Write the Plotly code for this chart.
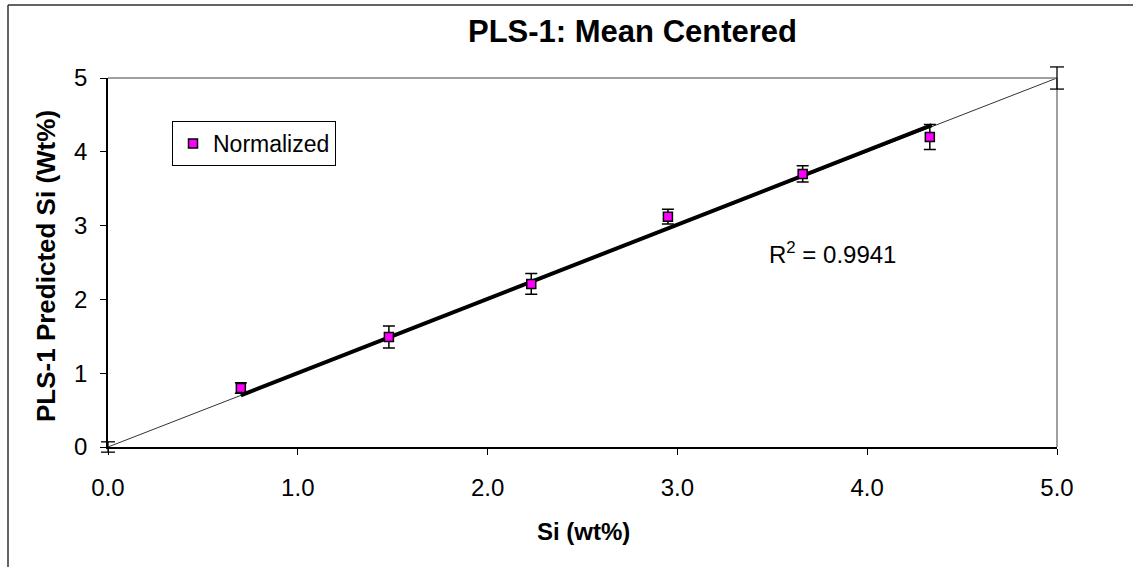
import plotly.graph_objects as go

# Measured vs. predicted Si content (wt%)
si_measured = [0.70, 1.48, 2.23, 2.95, 3.66, 4.33]
si_predicted = [0.80, 1.49, 2.21, 3.12, 3.70, 4.20]
pred_error = [0.07, 0.15, 0.14, 0.10, 0.11, 0.17]

# 1:1 reference line
ref_x = [0.0, 5.0]
ref_y = [0.0, 5.0]
ref_error = [0.07, 0.15]

# Linear trendline endpoints
trend_x = [0.70, 4.34]
trend_y = [0.70, 4.36]
r_squared = 0.9941

x_range = [0, 5]
y_range = [0, 5]
x_ticks = [0, 1, 2, 3, 4, 5]
y_ticks = [0, 1, 2, 3, 4, 5]

W, H = 1133, 567
L, R, T, B = 108, 1057, 78, 447
FONT = "Arial, Liberation Sans"


def px(x):
    """Figure pixel column -> paper x."""
    return (x - L) / (R - L)


def py(y):
    """Figure pixel row -> paper y."""
    return (B - y) / (B - T)


def dx(v):
    """Data x -> paper x."""
    return (v - x_range[0]) / (x_range[1] - x_range[0])


def dy(v):
    """Data y -> paper y."""
    return (v - y_range[0]) / (y_range[1] - y_range[0])


fig = go.Figure()

fig.add_trace(go.Scatter(
    x=ref_x, y=ref_y, mode="lines",
    line=dict(color="#333333", width=1),
    showlegend=False, hoverinfo="skip",
))

fig.add_trace(go.Scatter(
    x=trend_x, y=trend_y, mode="lines",
    line=dict(color="black", width=4),
    showlegend=False, hoverinfo="skip",
))

fig.add_trace(go.Scatter(
    x=si_measured, y=si_predicted, mode="markers", name="Normalized",
    marker=dict(symbol="square", size=9, color="#FF00FF",
                line=dict(color="black", width=1.5)),
    error_y=dict(type="data", array=pred_error, visible=True,
                 color="black", thickness=1.5, width=6),
))

shapes = [
    # plot-area top and right edges
    dict(type="line", xref="paper", yref="paper", x0=0, x1=1, y0=1, y1=1,
         line=dict(color="#808080", width=1.5)),
    dict(type="line", xref="paper", yref="paper", x0=1, x1=1, y0=0, y1=1,
         line=dict(color="#808080", width=1.5)),
    # chart frame
    dict(type="line", xref="paper", yref="paper", x0=px(8), x1=px(8),
         y0=py(5), y1=py(600), line=dict(color="#303030", width=1.5)),
    dict(type="line", xref="paper", yref="paper", x0=px(8), x1=px(1200),
         y0=py(5), y1=py(5), line=dict(color="#303030", width=1.5)),
]

# error bars of the 1:1 line end points (drawn unclipped at the plot edges)
cap_half = 7 / (R - L)
for xv, yv, ev in zip(ref_x, ref_y, ref_error):
    xp = dx(xv)
    seg = [
        (xp, xp, dy(yv - ev), dy(yv + ev)),
        (xp - cap_half, xp + cap_half, dy(yv - ev), dy(yv - ev)),
        (xp - cap_half, xp + cap_half, dy(yv + ev), dy(yv + ev)),
    ]
    for x0, x1, y0, y1 in seg:
        shapes.append(dict(type="line", xref="paper", yref="paper",
                           x0=x0, x1=x1, y0=y0, y1=y1,
                           line=dict(color="black", width=1.3)))

annotations = [
    dict(text="<b>PLS-1: Mean Centered</b>", xref="paper", yref="paper",
         x=px(632), y=py(32), xanchor="center", yanchor="middle",
         showarrow=False, font=dict(family=FONT, size=31, color="black")),
    dict(text="<b>Si (wt%)</b>", xref="paper", yref="paper",
         x=px(583), y=py(531), xanchor="center", yanchor="middle",
         showarrow=False, font=dict(family=FONT, size=24, color="black")),
    dict(text="<b>PLS-1 Predicted Si (Wt%)</b>", xref="paper", yref="paper",
         x=px(46), y=py(266), xanchor="center", yanchor="middle",
         showarrow=False, textangle=-90,
         font=dict(family=FONT, size=26, color="black")),
    dict(text=f"R<sup>2</sup> = {r_squared:.4f}", xref="x", yref="y",
         x=3.47, y=2.63, xanchor="left", yanchor="middle", showarrow=False,
         font=dict(family=FONT, size=24, color="black")),
]

fig.update_layout(
    width=W, height=H,
    margin=dict(l=L, r=W - R, t=T, b=H - B),
    paper_bgcolor="white", plot_bgcolor="white",
    font=dict(family=FONT, size=24, color="black"),
    showlegend=True,
    legend=dict(x=px(172), y=py(121), xanchor="left", yanchor="top",
                bordercolor="black", borderwidth=1, bgcolor="white",
                font=dict(size=23), itemwidth=30, tracegroupgap=0),
    shapes=shapes,
    annotations=annotations,
)

fig.update_xaxes(
    range=x_range, tickvals=x_ticks, tickformat=".1f",
    showgrid=False, zeroline=False, showline=True, linecolor="black",
    linewidth=1.5, ticks="outside", ticklen=6, tickcolor="black",
    ticklabelstandoff=12,
)
fig.update_yaxes(
    range=y_range, tickvals=y_ticks,
    showgrid=False, zeroline=False, showline=True, linecolor="black",
    linewidth=1.5, ticks="outside", ticklen=6, tickcolor="black",
    ticklabelstandoff=8,
)

fig.write_html("out.html")
